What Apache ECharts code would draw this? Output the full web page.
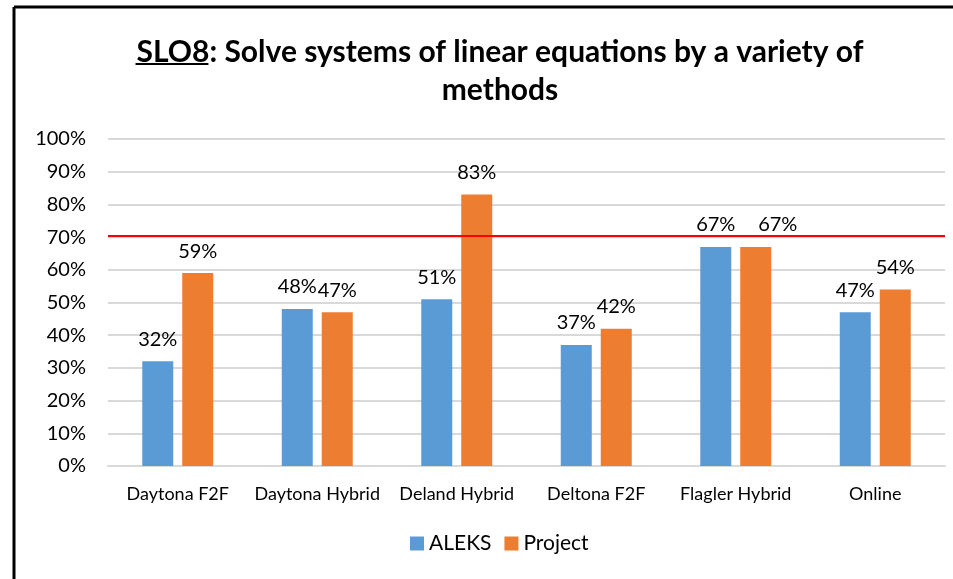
<!DOCTYPE html>
<html>
<head>
<meta charset="utf-8">
<script src="https://cdn.jsdelivr.net/npm/echarts@6/dist/echarts.min.js"></script>
<style>
    html, body { margin: 0; padding: 0; background: #fff; }
    #chart { width: 953px; height: 579px; }
</style>
</head>
<body>
<div id="chart"></div>
<script>
    // data
    var categories = ['Daytona F2F', 'Daytona Hybrid', 'Deland Hybrid', 'Deltona F2F', 'Flagler Hybrid', 'Online'];
    var aleks = [32, 48, 51, 37, 67, 47];
    var project = [59, 47, 83, 42, 67, 54];
    var target = 70.5;

    var font = 'Lato';
    var titleLine1 = 'SLO8: Solve systems of linear equations by a variety of';
    var titleLine2 = 'methods';
    var titleSize = 30;
    var titleCenter = 495;

    // measure the title with zrender so the underline under "SLO8" lines up
    var titleFont = 'bold ' + titleSize + 'px ' + font;
    var w1 = echarts.format.getTextRect ? 0 : 0;
    var ctx = document.createElement('canvas').getContext('2d');
    ctx.font = titleFont;
    w1 = ctx.measureText(titleLine1).width;
    var wSlo = ctx.measureText('SLO8').width;
    var titleLeft = titleCenter - w1 / 2;

    var chart = echarts.init(document.getElementById('chart'));

    var labelStyle = {
        show: true,
        position: 'top',
        distance: 12,
        formatter: '{c}%',
        color: '#000',
        fontFamily: font,
        fontSize: 20
    };

    // Excel pushed the Flagler project label sideways so it doesn't collide
    var projectData = project.map(function (v, i) {
        return i === 4 ? { value: v, label: { offset: [22, 0] } } : v;
    });

    chart.setOption({
        animation: false,
        textStyle: { fontFamily: font },
        title: {
            text: titleLine1 + '\n' + titleLine2,
            left: titleCenter,
            top: 28,
            textAlign: 'center',
            textStyle: {
                fontFamily: font,
                fontWeight: 'bold',
                fontSize: titleSize,
                color: '#000',
                lineHeight: 38
            }
        },
        graphic: [
            { type: 'line', shape: { x1: 14, y1: 7, x2: 953, y2: 7 }, style: { stroke: '#000', lineWidth: 3 } },
            { type: 'line', shape: { x1: 14, y1: 7, x2: 14, y2: 579 }, style: { stroke: '#000', lineWidth: 3 } },
            { type: 'line', shape: { x1: titleLeft + 4, y1: 64, x2: titleLeft + 4 + wSlo, y2: 64 }, style: { stroke: '#000', lineWidth: 2 } }
        ],
        legend: {
            bottom: 20,
            left: 405,
            itemWidth: 14,
            itemHeight: 14,
            itemGap: 13,
            icon: 'rect',
            textStyle: { fontFamily: font, fontSize: 21, color: '#000' },
            data: ['ALEKS', 'Project']
        },
        grid: { left: 108, right: 8, top: 139, bottom: 113 },
        xAxis: {
            type: 'category',
            data: categories,
            axisLine: { lineStyle: { color: '#d9d9d9', width: 2 } },
            axisTick: { show: false },
            axisLabel: { color: '#000', fontFamily: font, fontSize: 18, margin: 19, interval: 0 }
        },
        yAxis: {
            type: 'value',
            min: 0,
            max: 100,
            interval: 10,
            axisLine: { show: false },
            axisTick: { show: false },
            splitLine: { lineStyle: { color: '#d9d9d9', width: 2 } },
            axisLabel: { color: '#000', fontFamily: font, fontSize: 20, margin: 22, formatter: '{value}%' }
        },
        series: [
            {
                name: 'ALEKS',
                type: 'bar',
                data: aleks,
                barWidth: 31,
                barGap: '29%',
                itemStyle: { color: '#5b9bd5' },
                label: labelStyle,
                markLine: {
                    silent: true,
                    symbol: 'none',
                    label: { show: false },
                    lineStyle: { color: '#ff0000', width: 2, type: 'solid' },
                    data: [{ yAxis: target }]
                }
            },
            {
                name: 'Project',
                type: 'bar',
                data: projectData,
                barWidth: 31,
                barGap: '29%',
                itemStyle: { color: '#ed7d31' },
                label: labelStyle
            }
        ]
    });
</script>
</body>
</html>
